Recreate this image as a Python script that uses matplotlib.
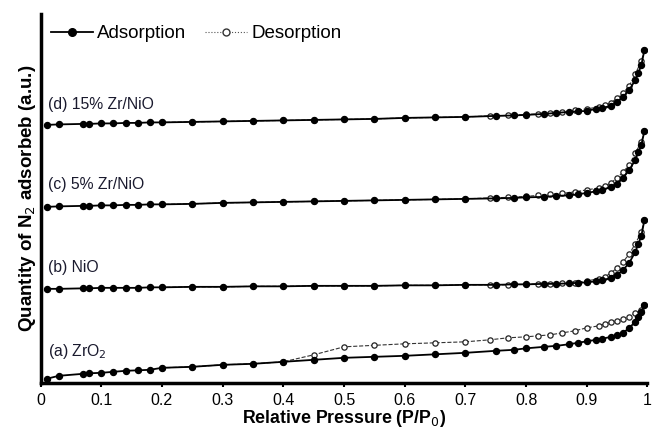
import matplotlib
matplotlib.use("Agg")
import matplotlib.pyplot as plt
from matplotlib.lines import Line2D

plt.rcParams['font.family'] = ['Liberation Sans', 'DejaVu Sans']

# relative pressure grids (P/P0)
p_ads = [0.01, 0.03, 0.07, 0.08, 0.10, 0.12, 0.14, 0.16, 0.18, 0.20, 0.25, 0.30,
         0.35, 0.40, 0.45, 0.50, 0.55, 0.60, 0.65, 0.70, 0.75, 0.78, 0.80, 0.83,
         0.85, 0.87, 0.885, 0.90, 0.915, 0.925, 0.94, 0.95, 0.96, 0.97, 0.98,
         0.985, 0.99, 0.995]
p_des = [0.995, 0.99, 0.98, 0.97, 0.96, 0.95, 0.94, 0.93, 0.92, 0.90, 0.88, 0.86,
         0.84, 0.82, 0.80, 0.77, 0.74, 0.70, 0.65, 0.60, 0.55, 0.50, 0.45, 0.40,
         0.35, 0.30, 0.25, 0.20]

# quantity adsorbed (a.u.), curves already offset vertically
zro2_ads = [4, 7, 9, 9.5, 10, 11, 12, 12.5, 13, 15, 16, 18,
            19, 21, 23, 25, 26, 27, 28.5, 30, 32, 33, 34.5, 36,
            37, 38.5, 40, 41.5, 43, 44, 46, 48, 50, 55, 61,
            66, 71, 78]
zro2_des = [78, 73, 70, 66, 64, 62, 61, 59, 57, 55, 52, 50,
            48, 47, 46, 45, 43, 41, 40, 39, 37.5, 36, 28, 21,
            19, 18, 16, 15]

nio_ads = [94, 94, 94.5, 94.5, 95, 95, 95, 95, 95.5, 95.5, 96, 96,
           96.5, 96.5, 97, 97, 97, 97.5, 97.5, 98, 98, 98.5, 98.5, 99,
           99, 99.5, 100, 100.5, 101.5, 102.5, 105, 108, 113, 120, 131,
           139, 147, 163]
nio_des = [163, 151, 139, 129, 121, 115, 110, 106, 104, 102, 100, 99.5,
           99, 99, 98.5, 98, 98, 98, 97.5, 97.5, 97, 97, 97, 96.5,
           96.5, 96, 96, 95.5]

zr5_ads = [176, 176.5, 177, 177, 177.5, 177.5, 178, 178, 178.5, 178.5, 179, 180,
           180.5, 181, 181.5, 182, 182.5, 183, 183.5, 184, 184.5, 185, 185.5, 186,
           187, 187.5, 188.5, 190, 191.5, 193, 196, 199, 205, 213, 223,
           231, 238, 252]
zr5_des = [252, 241, 230, 218, 211, 205, 200, 197, 195, 193, 191, 189.5,
           188.5, 187.5, 186.5, 185.5, 185, 184, 183.5, 183, 182.5, 182, 181.5, 181,
           180.5, 180, 179, 178.5]

zr15_ads = [258, 258.5, 259, 259, 259.5, 259.5, 260, 260, 260.5, 260.5, 261, 261.5,
            262, 262.5, 263, 263.5, 264, 265, 265.5, 266, 267, 267.5, 268, 269,
            270, 271, 271.5, 272, 274, 275, 277, 281, 286, 293, 303,
            310, 318, 333]
zr15_des = [333, 322, 309, 297, 290, 285, 280, 278, 276, 274, 272.5, 271,
            270, 269, 268.5, 267.5, 267, 266, 265.5, 265, 264, 263.5, 263, 262.5,
            262, 261.5, 261, 260.5]

labels = ['(a) ZrO$_2$', '(b) NiO', '(c) 5% Zr/NiO', '(d) 15% Zr/NiO']
label_y = [22, 108, 191, 271]
x_ticks = [0, 0.1, 0.2, 0.3, 0.4, 0.5, 0.6, 0.7, 0.8, 0.9, 1]
x_tick_labels = ['0', '0.1', '0.2', '0.3', '0.4', '0.5', '0.6', '0.7', '0.8', '0.9', '1']

fig = plt.figure(figsize=(6.54, 4.36), dpi=100)
ax = fig.add_axes([0.062, 0.122, 0.928, 0.846])

series = [(zro2_ads, zro2_des), (nio_ads, nio_des), (zr5_ads, zr5_des), (zr15_ads, zr15_des)]
for ads, des in series:
    ax.plot(p_des, des, '--', color='#333333', lw=0.8, marker='o', ms=3.8,
            mfc='white', mec='#222222', mew=0.9)
    ax.plot(p_ads, ads, '-', color='black', lw=1.3, marker='o', ms=4.3,
            mfc='black', mec='black')

for lab, ly in zip(labels, label_y):
    ax.text(0.012, ly, lab, fontsize=11.3, color='#1a1a2e', va='bottom')

handles = [Line2D([], [], color='black', lw=1.3, marker='o', ms=5.5, mfc='black'),
           Line2D([], [], color='#555555', lw=0.8, ls=':', marker='o', ms=5, mfc='white', mec='#333333')]
ax.legend(handles, ['Adsorption', 'Desorption'], loc='upper left', ncol=2, frameon=False,
          fontsize=13.5, handlelength=2.2, columnspacing=1.0, handletextpad=0.25,
          bbox_to_anchor=(-0.01, 1.015))

ax.set_xlim(0, 1)
ax.set_ylim(0, 369)
ax.set_xticks(x_ticks)
ax.set_xticklabels(x_tick_labels, fontsize=11.5)
ax.set_yticks([])
ax.tick_params(axis='x', length=3, width=1.5, pad=4)
for s in ['top', 'right']:
    ax.spines[s].set_visible(False)
for s in ['left', 'bottom']:
    ax.spines[s].set_linewidth(2.5)

ax.set_xlabel('Relative Pressure (P/P$_0$)', fontsize=12.8, fontweight='bold', labelpad=0)
ax.set_ylabel('Quantity of N$_2$ adsorbeb (a.u.)', fontsize=13.5, fontweight='bold', labelpad=2)

fig.savefig('out.png', dpi=100)
